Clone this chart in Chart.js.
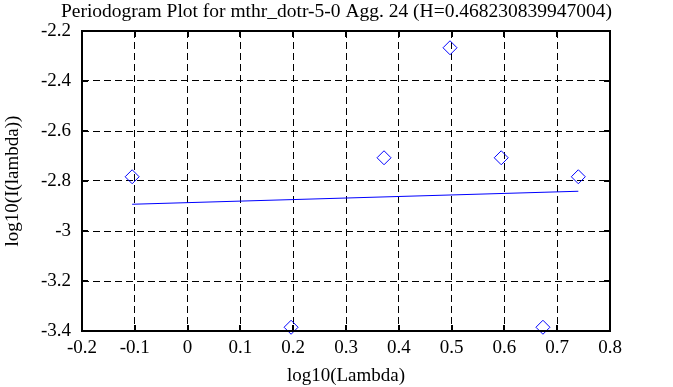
<!DOCTYPE html>
<html>
<head>
<meta charset="utf-8">
<script src="https://cdn.jsdelivr.net/npm/chart.js@4/dist/chart.umd.min.js"></script>
<style>
  html, body { margin: 0; padding: 0; background: #fff; }
  canvas { display: block; }
</style>
</head>
<body>
<canvas id="chart" width="673" height="387"></canvas>
<script>
// periodogram points (log10 scale)
const lambdaLog = [-0.105, 0.196, 0.372, 0.497, 0.594, 0.673, 0.740];
const periodLog = [-2.783, -3.385, -2.707, -2.267, -2.707, -3.385, -2.783];

// least squares fit line
const fitX = [-0.105, 0.740];
const fitY = [-2.893, -2.841];

const xTicks = [-0.2, -0.1, 0, 0.1, 0.2, 0.3, 0.4, 0.5, 0.6, 0.7, 0.8];
const yTicks = [-3.4, -3.2, -3, -2.8, -2.6, -2.4, -2.2];

const serif = "'Liberation Serif', 'DejaVu Serif', serif";

// frame + inner tick marks like the old gnuplot look
const framePlugin = {
  id: 'frame',
  afterDraw(chart) {
    const { ctx, chartArea: a, scales } = chart;
    ctx.save();
    ctx.strokeStyle = '#000';
    ctx.lineWidth = 2;
    ctx.beginPath();
    scales.x.ticks.forEach(t => {
      const px = Math.round(scales.x.getPixelForValue(t.value));
      ctx.moveTo(px, a.bottom); ctx.lineTo(px, a.bottom - 6);
      ctx.moveTo(px, a.top); ctx.lineTo(px, a.top + 6);
    });
    scales.y.ticks.forEach(t => {
      const py = Math.round(scales.y.getPixelForValue(t.value));
      ctx.moveTo(a.left, py); ctx.lineTo(a.left + 6, py);
      ctx.moveTo(a.right, py); ctx.lineTo(a.right - 6, py);
    });
    ctx.stroke();
    ctx.strokeRect(a.left, a.top, a.right - a.left, a.bottom - a.top);
    ctx.restore();
  }
};

new Chart(document.getElementById('chart'), {
  type: 'scatter',
  data: {
    datasets: [
      {
        data: lambdaLog.map((x, i) => ({ x, y: periodLog[i] })),
        pointStyle: 'rectRot',
        pointRadius: 7,
        pointBorderWidth: 1,
        borderColor: '#0000ff',
        backgroundColor: 'rgba(0,0,0,0)',
        clip: false
      },
      {
        type: 'line',
        data: fitX.map((x, i) => ({ x, y: fitY[i] })),
        borderColor: '#0000ff',
        borderWidth: 1.2,
        pointRadius: 0,
        fill: false
      }
    ]
  },
  options: {
    responsive: false,
    animation: false,
    plugins: {
      legend: { display: false },
      tooltip: { enabled: false },
      title: {
        display: true,
        text: 'Periodogram Plot for mthr_dotr-5-0 Agg. 24 (H=0.468230839947004)',
        color: '#000',
        font: { family: serif, size: 19.5, weight: 'normal' },
        padding: { top: 0, bottom: 7.6 }
      }
    },
    scales: {
      x: {
        type: 'linear',
        min: -0.2,
        max: 0.8,
        afterFit(s) { s.height = 56; },
        afterBuildTicks(s) { s.ticks = xTicks.map(v => ({ value: v })); },
        ticks: {
          color: '#000',
          font: { family: serif, size: 19 },
          padding: 6,
          maxRotation: 0,
          callback: v => String(v)
        },
        grid: { color: '#000', lineWidth: 1, drawTicks: false },
        border: { display: false, dash: [7, 4] },
        title: {
          display: true,
          text: 'log10(Lambda)',
          color: '#000',
          font: { family: serif, size: 19 },
          padding: { top: 0, bottom: 0 }
        }
      },
      y: {
        type: 'linear',
        min: -3.4,
        max: -2.2,
        afterFit(s) { s.width = 82; },
        afterBuildTicks(s) { s.ticks = yTicks.map(v => ({ value: v })); },
        ticks: {
          color: '#000',
          font: { family: serif, size: 19 },
          padding: 11,
          callback: v => String(v)
        },
        grid: { color: '#000', lineWidth: 1, drawTicks: false },
        border: { display: false, dash: [7, 4] },
        title: {
          display: true,
          text: 'log10(I(lambda))',
          color: '#000',
          font: { family: serif, size: 19 },
          padding: { top: 2, bottom: 0 }
        }
      },
      // empty right-hand margin so the title stays centred on the canvas
      yRight: {
        type: 'linear',
        position: 'right',
        min: -3.4,
        max: -2.2,
        afterFit(s) { s.width = 63; },
        ticks: { display: false },
        grid: { display: false },
        border: { display: false }
      }
    }
  },
  plugins: [framePlugin]
});
</script>
</body>
</html>
